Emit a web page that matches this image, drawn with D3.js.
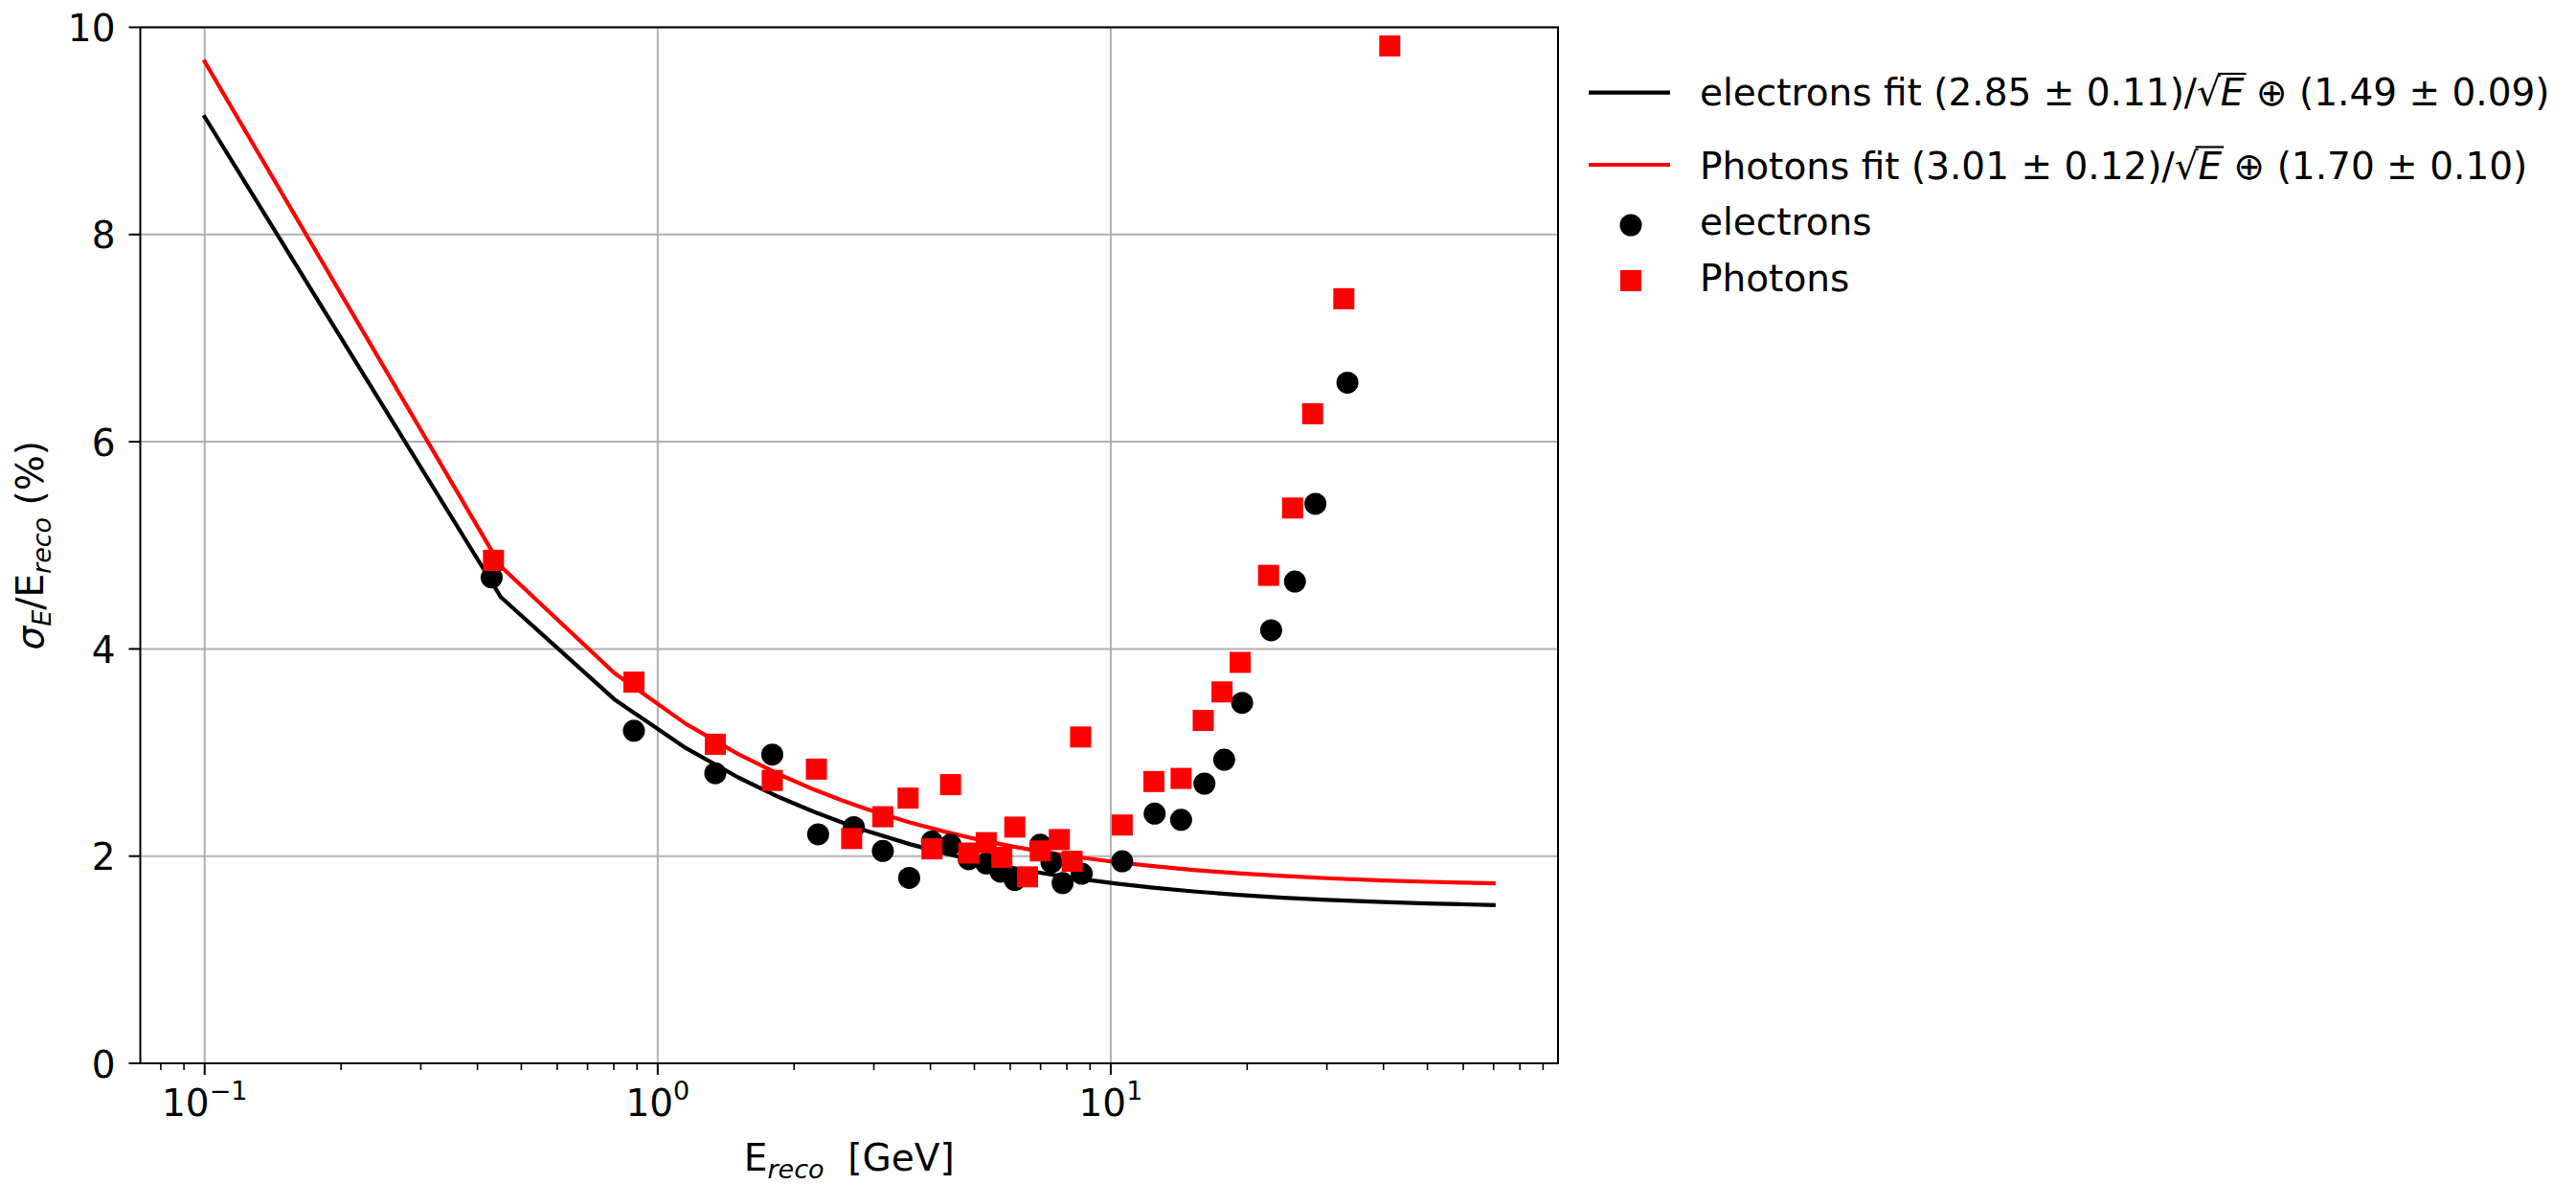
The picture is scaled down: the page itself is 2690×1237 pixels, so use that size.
<!DOCTYPE html>
<html><head><meta charset="utf-8">
<script src="https://cdn.jsdelivr.net/npm/d3@7"></script>
<style>body{margin:0;background:#fff}svg{display:block}</style>
</head><body>
<svg id="chart" width="2690" height="1237"></svg>
<script>
// ---------------- data ----------------
const electronE   = [0.430, 0.886, 1.34, 1.79, 2.26, 2.71, 3.14, 3.59, 4.03, 4.43, 4.86, 5.31, 5.71, 6.14, 6.99, 7.40, 7.83, 8.63, 10.6, 12.5, 14.3, 16.1, 17.8, 19.5, 22.6, 25.5, 28.3, 33.3];
const electronRes = [4.69, 3.21, 2.80, 2.98, 2.21, 2.28, 2.05, 1.79, 2.14, 2.11, 1.97, 1.93, 1.85, 1.77, 2.11, 1.94, 1.74, 1.83, 1.95, 2.41, 2.35, 2.70, 2.93, 3.48, 4.18, 4.65, 5.40, 6.57];
const photonE     = [0.434, 0.886, 1.34, 1.79, 2.24, 2.68, 3.14, 3.57, 4.03, 4.43, 4.86, 5.31, 5.75, 6.14, 6.55, 6.99, 7.70, 8.22, 8.58, 10.6, 12.45, 14.3, 16.0, 17.6, 19.3, 22.3, 25.2, 27.9, 32.7, 41.3];
const photonRes   = [4.855, 3.68, 3.08, 2.73, 2.84, 2.17, 2.38, 2.56, 2.07, 2.69, 2.03, 2.13, 1.99, 2.28, 1.80, 2.05, 2.16, 1.95, 3.15, 2.30, 2.72, 2.75, 3.31, 3.585, 3.87, 4.71, 5.36, 6.27, 7.38, 9.82];

// fit curves: polyline vertices as drawn
const fitE        = [0.1, 0.451, 0.803, 1.154, 1.505, 1.856, 2.208, 2.559, 2.910, 3.613, 4.316, 5.019, 6.073, 7.127, 8.533, 10.29, 12.4, 15.2, 19.1, 24.0, 30.0, 40.0, 50.0, 60.0, 70.0];
const electronFit = [9.135, 4.498, 3.512, 3.043, 2.760, 2.568, 2.429, 2.323, 2.239, 2.114, 2.025, 1.959, 1.886, 1.833, 1.781, 1.735, 1.696, 1.660, 1.626, 1.599, 1.578, 1.557, 1.543, 1.535, 1.528];
const photonFit   = [9.669, 4.794, 3.765, 3.277, 2.985, 2.788, 2.644, 2.536, 2.450, 2.323, 2.234, 2.167, 2.093, 2.040, 1.988, 1.942, 1.903, 1.867, 1.834, 1.808, 1.787, 1.765, 1.752, 1.744, 1.738];

const xDomain     = [0.07209, 97.13];
const yDomain     = [0, 10];
const yTicks      = [0, 2, 4, 6, 8, 10];
const xMajorTicks = [0.1, 1, 10];
const xTickBase   = "10";
const xTickExps   = ["\u22121", "0", "1"];
const legendFits  = [
  {pre: "electrons fit (2.85 \u00b1 0.11)/", post: " \u2295 (1.49 \u00b1 0.09)", color: "#000000"},
  {pre: "Photons fit (3.01 \u00b1 0.12)/",   post: " \u2295 (1.70 \u00b1 0.10)", color: "#ff0000"}
];
const legendPoints = [
  {label: "electrons", shape: "circle", color: "#000000"},
  {label: "Photons",   shape: "square", color: "#ff0000"}
];

// ---------------- layout ----------------
const FONT = "'DejaVu Sans', sans-serif";
const FS = 39;
const pLeft = 146.5, pRight = 1627, pTop = 28.5, pBottom = 1110;
const svg = d3.select("#chart");

const x = d3.scaleLog().domain(xDomain).range([pLeft, pRight]);
const y = d3.scaleLinear().domain(yDomain).range([pBottom, pTop]);

// grid
const grid = svg.append("g").attr("stroke", "#b0b0b0").attr("stroke-width", 2);
xMajorTicks.forEach(v => grid.append("line").attr("x1", x(v)).attr("x2", x(v)).attr("y1", pTop).attr("y2", pBottom));
yTicks.forEach(v => grid.append("line").attr("x1", pLeft).attr("x2", pRight).attr("y1", y(v)).attr("y2", y(v)));

// fit lines
svg.append("clipPath").attr("id", "plotclip").append("rect")
  .attr("x", pLeft).attr("y", pTop).attr("width", pRight - pLeft).attr("height", pBottom - pTop);
const line = d3.line().x(d => x(d[0])).y(d => y(d[1]));
const plot = svg.append("g").attr("clip-path", "url(#plotclip)");
[[electronFit, "#000000"], [photonFit, "#ff0000"]].forEach(([vals, col]) => {
  plot.append("path").datum(fitE.map((e, i) => [e, vals[i]]))
    .attr("d", line).attr("fill", "none").attr("stroke", col)
    .attr("stroke-width", 4.2).attr("stroke-linejoin", "round").attr("stroke-linecap", "square");
});

// electrons (circles)
plot.append("g").selectAll("circle").data(electronE.map((e, i) => [e, electronRes[i]]))
  .join("circle").attr("cx", d => x(d[0])).attr("cy", d => y(d[1])).attr("r", 11.5).attr("fill", "#000000");
// photons (squares)
const SQ = 22;
plot.append("g").selectAll("rect").data(photonE.map((e, i) => [e, photonRes[i]]))
  .join("rect").attr("x", d => x(d[0]) - SQ / 2).attr("y", d => y(d[1]) - SQ / 2)
  .attr("width", SQ).attr("height", SQ).attr("fill", "#ff0000");

// spines
svg.append("rect").attr("x", pLeft).attr("y", pTop).attr("width", pRight - pLeft).attr("height", pBottom - pTop)
  .attr("fill", "none").attr("stroke", "#000").attr("stroke-width", 2);

// y axis ticks
const yAxis = svg.append("g");
yTicks.forEach(v => {
  yAxis.append("line").attr("x1", pLeft - 12).attr("x2", pLeft).attr("y1", y(v)).attr("y2", y(v))
    .attr("stroke", "#000").attr("stroke-width", 2);
  yAxis.append("text").attr("x", pLeft - 26).attr("y", y(v) + 14.5).attr("text-anchor", "end")
    .attr("font-family", FONT).attr("font-size", FS).attr("fill", "#000").text(d3.format("d")(v));
});

// x axis ticks
const xAxis = svg.append("g");
const minor = [];
for (let d = -2; d <= 1; d++) for (let k = 2; k <= 9; k++) {
  const v = k * Math.pow(10, d);
  if (v >= xDomain[0] && v <= xDomain[1]) minor.push(v);
}
minor.forEach(v => xAxis.append("line").attr("x1", x(v)).attr("x2", x(v)).attr("y1", pBottom).attr("y2", pBottom + 7)
  .attr("stroke", "#000").attr("stroke-width", 1.6));
xMajorTicks.forEach((v, i) => {
  xAxis.append("line").attr("x1", x(v)).attr("x2", x(v)).attr("y1", pBottom).attr("y2", pBottom + 12)
    .attr("stroke", "#000").attr("stroke-width", 2);
  const t = xAxis.append("text").attr("x", x(v)).attr("y", 1165).attr("text-anchor", "middle")
    .attr("font-family", FONT).attr("font-size", FS).attr("fill", "#000");
  t.append("tspan").text(xTickBase);
  t.append("tspan").attr("dy", -17).attr("font-size", 27).text(xTickExps[i]);
});

// axis labels
const xl = svg.append("text").attr("x", (pLeft + pRight) / 2).attr("y", 1222).attr("text-anchor", "middle")
  .attr("font-family", FONT).attr("font-size", FS).attr("fill", "#000");
xl.append("tspan").text("E");
xl.append("tspan").attr("dy", 8).attr("font-size", 27).attr("font-style", "italic").text("reco");
xl.append("tspan").attr("dy", -8).text("\u00a0 [GeV]");

const yl = svg.append("text").attr("transform", `translate(45,${(pTop + pBottom) / 2}) rotate(-90)`)
  .attr("text-anchor", "middle").attr("font-family", FONT).attr("font-size", FS).attr("fill", "#000");
yl.append("tspan").attr("font-style", "italic").text("\u03c3");
yl.append("tspan").attr("dy", 8).attr("font-size", 27).attr("font-style", "italic").text("E");
yl.append("tspan").attr("dy", -8).text("/E");
yl.append("tspan").attr("dy", 8).attr("font-size", 27).attr("font-style", "italic").text("reco");
yl.append("tspan").attr("dy", -8).text("\u00a0(%)");

// legend
const lg = svg.append("g");
const fitRows = [96.7, 172];
const fitBase = [110, 186.5];
legendFits.forEach((f, i) => {
  lg.append("line").attr("x1", 1659).attr("x2", 1744).attr("y1", fitRows[i]).attr("y2", fitRows[i])
    .attr("stroke", f.color).attr("stroke-width", 4.2);
  const t = lg.append("text").attr("x", 1775).attr("y", fitBase[i])
    .attr("font-family", FONT).attr("font-size", FS).attr("fill", "#000");
  t.append("tspan").text(f.pre);
  t.append("tspan").text("\u221a");
  t.append("tspan").attr("font-style", "italic").text("E");
  t.append("tspan").text(f.post);
  // overbar of the square root
  const n = f.pre.length;
  const ex1 = t.node().getExtentOfChar(n);
  const ex2 = t.node().getExtentOfChar(n + 1);
  const yb = ex1.y + 3;
  lg.append("line").attr("x1", ex1.x + ex1.width - 3).attr("x2", ex2.x + ex2.width + 2)
    .attr("y1", yb).attr("y2", yb).attr("stroke", "#000").attr("stroke-width", 2.2);
});
const ptRows = [235, 293];
const ptBase = [245, 304];
legendPoints.forEach((p, i) => {
  if (p.shape === "circle") lg.append("circle").attr("cx", 1703).attr("cy", ptRows[i]).attr("r", 11.5).attr("fill", p.color);
  else lg.append("rect").attr("x", 1703 - SQ / 2).attr("y", ptRows[i] - SQ / 2).attr("width", SQ).attr("height", SQ).attr("fill", p.color);
  lg.append("text").attr("x", 1775).attr("y", ptBase[i]).attr("font-family", FONT).attr("font-size", FS)
    .attr("fill", "#000").text(p.label);
});
</script>
</body></html>
